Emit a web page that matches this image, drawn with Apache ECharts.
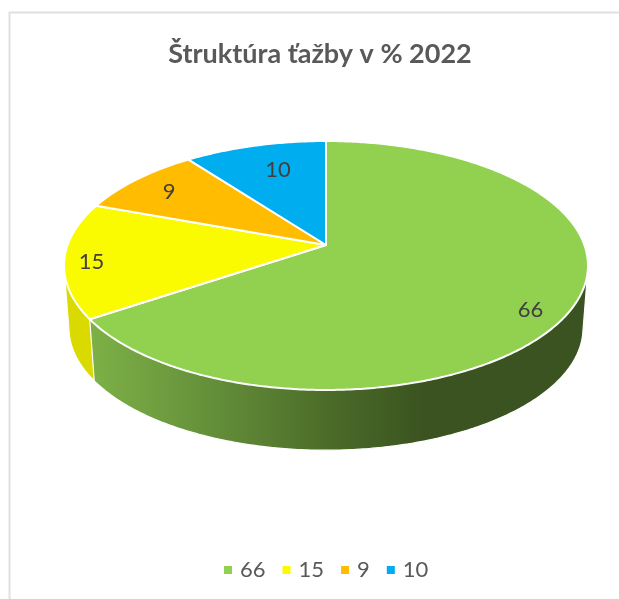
<!DOCTYPE html>
<html>
<head>
<meta charset="utf-8">
<style>html,body{margin:0;padding:0;background:#fff}#c{width:619px;height:599px}</style>
<script src="https://cdn.jsdelivr.net/npm/echarts@6/dist/echarts.min.js"></script>
</head>
<body>
<div id="c"></div>
<script>
const titleText = 'Štruktúra ťažby v % 2022';
const categories = ['66', '15', '9', '10'];
const shares = [66, 15, 9, 10];
const colors = ['#92D050', '#FAFA00', '#FFBC00', '#00AEEF'];
const sideColors = ['#3B5320', '#DADA00', '#BF9000', '#0083B3'];

// Perspective model of the tilted disc
const apexX = 326, topApexY = 245, baseApexY = 308;
const radX = 258.4, radY = 121.1, tilt = 0.1647, baseScale = 0.981, warp = 0.03;
const labelRadius = 0.85;
const labelNudge = [[-2, 12], [-13, 7], [3, 5], [12, 11]];

const total = shares.reduce((a, b) => a + b, 0);
function project(theta, r, scale, y0) {
  const s = Math.sin(theta) * r, c = Math.cos(theta) * r;
  const w = 1 + tilt * c;
  return [apexX + scale * radX * s / w, y0 - scale * radY * c / w];
}
function hull(points) {
  const p = points.slice().sort((a, b) => a[0] - b[0] || a[1] - b[1]);
  const cross = (o, a, b) => (a[0] - o[0]) * (b[1] - o[1]) - (a[1] - o[1]) * (b[0] - o[0]);
  const lo = [], up = [];
  for (const q of p) {
    while (lo.length > 1 && cross(lo[lo.length - 2], lo[lo.length - 1], q) <= 0) lo.pop();
    lo.push(q);
  }
  for (const q of p.slice().reverse()) {
    while (up.length > 1 && cross(up[up.length - 2], up[up.length - 1], q) <= 0) up.pop();
    up.push(q);
  }
  return lo.slice(0, -1).concat(up.slice(0, -1));
}
function sliceRenderer(idx) {
  return function (params, api) {
    const before = shares.slice(0, idx).reduce((a, b) => a + b, 0);
    const a0 = before / total * 2 * Math.PI;
    const a1 = (before + api.value(0)) / total * 2 * Math.PI;
    const steps = Math.max(8, Math.ceil((a1 - a0) * 90));
    const top = [], base = [];
    for (let i = 0; i <= steps; i++) {
      const raw = a0 + (a1 - a0) * i / steps;
      const t = raw + warp * Math.sin(raw);
      top.push(project(t, 1, 1, topApexY));
      base.push(project(t, 1, baseScale, baseApexY));
    }
    const face = [[apexX, topApexY]].concat(top);
    const sideFill = idx === 0
      ? new echarts.graphic.LinearGradient(92, 0, 425, 0, [
          { offset: 0, color: '#7DB046' },
          { offset: 0.35, color: '#65903A' },
          { offset: 0.72, color: '#4A6B28' },
          { offset: 1, color: '#3B5320' }
        ], true)
      : sideColors[idx];
    const mid = (a0 + a1) / 2;
    const lp = project(mid, labelRadius, 1, topApexY);
    return {
      type: 'group',
      children: [
        { type: 'polygon', z2: idx === 0 ? 2 : 1, shape: { points: hull(top.concat(base)) },
          style: { fill: sideFill, stroke: '#fff', lineWidth: 1.2, lineJoin: 'round' } },
        { type: 'polygon', z2: 10, shape: { points: face },
          style: { fill: colors[idx], stroke: '#fff', lineWidth: 2, lineJoin: 'round' } },
        { type: 'text', z2: 20, x: lp[0] + labelNudge[idx][0], y: lp[1] + labelNudge[idx][1],
          style: { text: categories[idx], fill: '#404040', font: '22px Lato', align: 'center', verticalAlign: 'middle' } }
      ]
    };
  };
}
const chart = echarts.init(document.getElementById('c'), null, { renderer: 'canvas' });
chart.setOption({
  animation: false,
  backgroundColor: '#fff',
  title: { text: titleText, left: 315, top: 36, textAlign: 'center',
    textStyle: { fontFamily: 'Lato', fontWeight: 'bold', fontSize: 27, color: '#595959' } },
  legend: {
    left: 219, top: 554, data: categories, icon: 'rect', itemWidth: 8, itemHeight: 8, itemGap: 17,
    textStyle: { fontFamily: 'Lato', fontSize: 22, color: '#595959', padding: [0, 0, 0, 3] }
  },
  graphic: [{ type: 'rect', silent: true, z: -1,
    shape: { x: 9.5, y: 12.5, width: 800, height: 800 },
    style: { fill: 'none', stroke: '#E0E0E0', lineWidth: 2 } }],
  series: categories.map((name, i) => ({
    type: 'custom', name, coordinateSystem: 'none',
    itemStyle: { color: colors[i] },
    renderItem: sliceRenderer(i),
    encode: { value: 0 },
    data: [[shares[i]]],
    silent: true
  }))
});
</script>
</body>
</html>
